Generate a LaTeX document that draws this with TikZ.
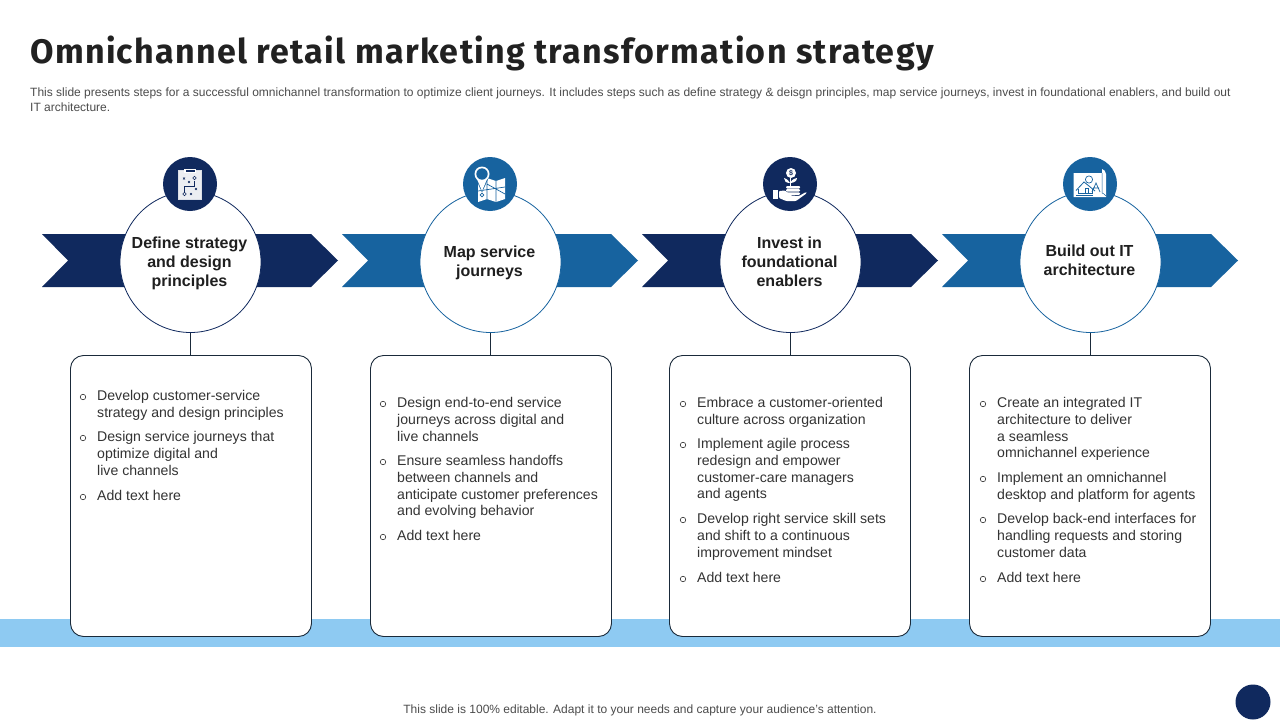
\documentclass[tikz,border=0pt]{standalone}
\usepackage{fontspec}
\setmainfont{Liberation Sans}
\newfontfamily\titlefont[LetterSpace=3.9]{Fira Sans}
\definecolor{navy}{HTML}{10295E}
\definecolor{midblue}{HTML}{17639F}
\definecolor{band}{HTML}{8ECAF2}
\definecolor{ink}{HTML}{333333}
\definecolor{edge}{HTML}{1A2A3A}
\tikzset{
  x=1pt,y=-1pt,
  bigcirc/.style={circle,draw,fill=white,line width=0.8pt,minimum size=141pt,inner sep=0pt},
  iconcirc/.style={circle,minimum size=54pt,inner sep=0pt},
  heading/.style={align=center,text=black!88,font=\fontsize{16}{19}\selectfont\bfseries,inner sep=0pt},
  panel/.style={draw=edge,fill=white,rounded corners=13pt,line width=0.9pt,minimum width=241pt,minimum height=281pt,inner sep=0pt},
  bodytext/.style={anchor=north west,align=left,inner sep=0pt,text=ink,font=\fontsize{14.1}{16.8}\selectfont},
  bulletmark/.style={circle,draw=ink,line width=0.6pt,minimum size=5.5pt,inner sep=0pt},
  stem/.style={draw=edge,line width=0.9pt},
  ic/.style={draw=white,line width=0.7pt},
}
\newcommand{\bul}[4]{%
  \node[bulletmark] (m#1) at (#2-14,#3+2) {};
  \node[bodytext] (t#1) at (#2,#3-5) {#4};
}
\newcommand{\arrowshape}[2]{%
  \fill[#2] (#1+42,234) -- (#1+311,234) -- (#1+338,260.5) -- (#1+311,287) -- (#1+42,287) -- (#1+68,260.5) -- cycle;
}
\begin{document}
\begin{tikzpicture}
\useasboundingbox (0,0) rectangle (1280,720);
\fill[white] (0,0) rectangle (1280,720);
\fill[band] (0,619) rectangle (1280,647);
\node[anchor=base west,inner sep=0pt,text=black!87,font=\titlefont\fontsize{34}{40}\selectfont\bfseries] (title) at (30,63.5) {Omnichannel retail marketing transformation strategy};
\node[anchor=north west,align=left,inner sep=0pt,text=black!70,font=\fontsize{12}{15}\selectfont] (sub) at (30,88) {This slide presents steps for a successful omnichannel transformation to optimize client journeys. It includes steps such as define strategy \& deisgn principles, map service journeys, invest in foundational enablers, and build out\\IT architecture.};
\arrowshape{0}{navy}
\arrowshape{300}{midblue}
\arrowshape{600}{navy}
\arrowshape{900}{midblue}
\node[panel] (b1) at (191,496) {};
\node[panel] (b2) at (491,496) {};
\node[panel] (b3) at (790,496) {};
\node[panel] (b4) at (1090,496) {};
\node[bigcirc,draw=navy] (c1) at (190.5,262) {};
\node[bigcirc,draw=midblue] (c2) at (490.5,262) {};
\node[bigcirc,draw=navy] (c3) at (790.5,262) {};
\node[bigcirc,draw=midblue] (c4) at (1090.5,262) {};
\draw[stem] (c1.south) -- (c1.south |- b1.north);
\draw[stem] (c2.south) -- (c2.south |- b2.north);
\draw[stem] (c3.south) -- (c3.south |- b3.north);
\draw[stem] (c4.south) -- (c4.south |- b4.north);
\node[heading] (h1) at (189.5,263.5) {Define strategy\\and design\\principles};
\node[heading] (h2) at (489.5,263) {Map service\\journeys};
\node[heading] (h3) at (789.5,261.5) {Invest in\\foundational\\enablers};
\node[heading] (h4) at (1089.5,260.5) {Build out IT\\architecture};
\node[iconcirc,fill=navy] (i1) at (190,184) {};
\node[iconcirc,fill=midblue] (i2) at (490,184) {};
\node[iconcirc,fill=navy] (i3) at (790,184) {};
\node[iconcirc,fill=midblue] (i4) at (1090,184) {};
% icon 1: clipboard
\draw[ic,draw=white!85!navy,line width=0.9pt] (178.5,170.5) rectangle (201.5,199.5);
\fill[white!92!navy] (179,171) rectangle (201,199);
\fill[white] (184,168.5) rectangle (196,173);
\fill[navy] (185.5,170) rectangle (194.5,171.5);
\draw[navy,line width=0.5pt] (183,177.5) -- (185,179.5) (183,179.5) -- (185,177.5) (188,181) -- (190,183) (188,183) -- (190,181) (195,188) -- (197,190) (195,190) -- (197,188) (190,193) -- (192,195) (190,195) -- (192,193);
\draw[navy,line width=0.6pt] (184.5,192) -- (184.5,186) -- (194.5,186) -- (194.5,180.5);
\draw[navy,line width=0.5pt] (184.5,194) circle (1.7) (194.5,178) circle (1.7);
% icon 2: map and pin
\fill[white] (478,181) -- (487,178) -- (496,181) -- (505,178) -- (505,199) -- (496,202) -- (487,199) -- (478,202) -- cycle;
\draw[midblue,line width=0.7pt] (487,178) -- (487,199) (496,181) -- (496,202) (478,191) -- (505,187) (487,184) -- (505,194);
\draw[midblue,line width=0.7pt] (482,195) circle (1.8);
\fill[midblue] (475,177) -- (482,192.5) -- (489,177) -- cycle;
\fill[white] (476.5,178) -- (482,191) -- (487.5,178) -- cycle;
\fill[white] (482,174) circle (7.5);
\fill[midblue] (482,174) circle (5.7);
% icon 3: hand and plant
\fill[white] (791,173) circle (5);
\node[inner sep=0pt,text=navy,font=\fontsize{7}{7}\selectfont\bfseries] (dollar) at (791,173) {\$};
\draw[white,line width=0.9pt] (790,178) -- (790,186);
\fill[white] (790,183) .. controls (787,178) and (785,179) .. (784,178) .. controls (784,181) and (786,183) .. cycle;
\fill[white] (790,183) .. controls (793,178) and (795,179) .. (797,178) .. controls (797,181) and (794,183) .. cycle;
\foreach \yy in {186,189.2,192.4}{\fill[white,rounded corners=1pt] (786,\yy) rectangle (800,\yy+2.5);}
\fill[white] (773,190) rectangle (778,199);
\fill[white,rounded corners=1pt] (779,191) -- (785,190.5) -- (791,195.5) -- (799,196) -- (806,192) -- (807,193) -- (796,201) -- (786,201) -- (779,198) -- cycle;
% icon 4: blueprint
\fill[white] (1073.5,173) -- (1102,173) -- (1102,169) .. controls (1104,170) and (1106,171) .. (1106,174) -- (1106,197) -- (1073.5,197) -- cycle;
\draw[midblue,line width=0.5pt] (1102,173) -- (1102,193) .. controls (1103,193) and (1104,194) .. (1106,196);
\draw[midblue,line width=0.8pt] (1076,190.5) -- (1084,182) -- (1089,186) -- (1095,191);
\draw[midblue,line width=0.7pt] (1078,189) -- (1078,193) -- (1092,193) -- (1092,189) (1085,188) rectangle (1088,193);
\draw[midblue,line width=1pt] (1076,195) -- (1093,195);
\draw[midblue,line width=0.7pt] (1092,192) -- (1096,183) -- (1100,192) (1093,188) -- (1099,188);
\draw[midblue,line width=0.7pt] (1089,179.5) circle (3.6);
% body
\bul{a1}{97}{395}{Develop customer-service\\strategy and design principles}
\bul{a2}{97}{436}{Design service journeys that\\optimize digital and\\live channels}
\bul{a3}{97}{495}{Add text here}
\bul{b1x}{397}{402}{Design end-to-end service\\journeys across digital and\\live channels}
\bul{b2x}{397}{460}{Ensure seamless handoffs\\between channels and\\anticipate customer preferences\\and evolving behavior}
\bul{b3x}{397}{535}{Add text here}
\bul{c1x}{697}{402}{Embrace a customer-oriented\\culture across organization}
\bul{c2x}{697}{443}{Implement agile process\\redesign and empower\\customer-care managers\\and agents}
\bul{c3x}{697}{518}{Develop right service skill sets\\and shift to a continuous\\improvement mindset}
\bul{c4x}{697}{577}{Add text here}
\bul{d1x}{997}{402}{Create an integrated IT\\architecture to deliver\\a seamless\\omnichannel experience}
\bul{d2x}{997}{477}{Implement an omnichannel\\desktop and platform for agents}
\bul{d3x}{997}{518}{Develop back-end interfaces for\\handling requests and storing\\customer data}
\bul{d4x}{997}{577}{Add text here}
\node[inner sep=0pt,text=black!70,font=\fontsize{12}{14}\selectfont] (foot) at (640,710.5) {This slide is 100\% editable. Adapt it to your needs and capture your audience's attention.};
\node[circle,fill=navy,minimum size=35pt,inner sep=0pt] (dot) at (1253,702) {};
\end{tikzpicture}
\end{document}
